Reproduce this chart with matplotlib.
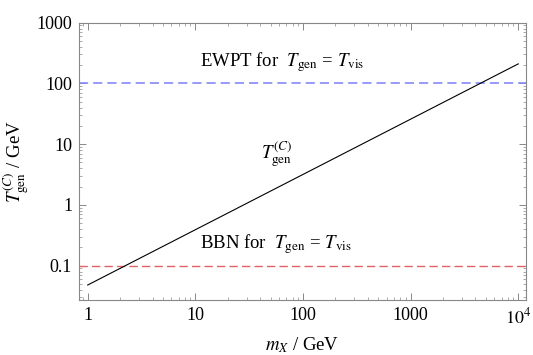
import matplotlib
matplotlib.use("Agg")
import matplotlib.pyplot as plt
from matplotlib.ticker import FixedLocator, FixedFormatter, LogLocator, NullFormatter

# data
m_x = [1.0, 1.0e4]
t_gen = [0.048, 210.0]
t_ewpt = 100.0
t_bbn = 0.1

x_ticks = [1, 10, 100, 1000, 10000]
x_labels = ["1", "10", "100", "1000", r"$10^4$"]
y_ticks = [0.1, 1, 10, 100, 1000]
y_labels = ["0.1", "1", "10", "100", "1000"]

plt.rcParams["font.family"] = ["Liberation Serif", "DejaVu Serif"]
plt.rcParams["mathtext.fontset"] = "stix"

fig = plt.figure(figsize=(5.33, 3.55), dpi=100)
ax = fig.add_axes([79 / 533, 1 - 300 / 355, (526 - 79) / 533, (300 - 22.7) / 355])

ax.set_xscale("log")
ax.set_yscale("log")
ax.set_xlim(0.83, 1.18e4)
ax.set_ylim(0.0272, 1000)

ax.axhline(t_ewpt, color="#8888f8", lw=1.2, ls=(0, (5.5, 3)))
ax.axhline(t_bbn, color="#e06262", lw=1.0, ls=(0, (6, 3)))
ax.plot(m_x, t_gen, color="black", lw=0.8)

ax.text(11, 225, r"EWPT for  $T_{\rm gen}$ = $T_{\rm vis}$", fontsize=13.5, va="center", ha="left")
ax.text(11, 0.23, r"BBN for  $T_{\rm gen}$ = $T_{\rm vis}$", fontsize=13.5, va="center", ha="left")
ax.text(57, 6.8, r"$T_{\rm gen}^{(C)}$", fontsize=13.5, ha="center", va="center")

ax.xaxis.set_major_locator(FixedLocator(x_ticks))
ax.xaxis.set_major_formatter(FixedFormatter(x_labels))
ax.yaxis.set_major_locator(FixedLocator(y_ticks))
ax.yaxis.set_major_formatter(FixedFormatter(y_labels))
ax.xaxis.set_minor_locator(LogLocator(base=10, subs=range(2, 10), numticks=20))
ax.yaxis.set_minor_locator(LogLocator(base=10, subs=range(2, 10), numticks=20))
ax.xaxis.set_minor_formatter(NullFormatter())
ax.yaxis.set_minor_formatter(NullFormatter())

ax.tick_params(which="both", direction="in", top=True, right=True, color="#888888", labelsize=13)
ax.tick_params(which="major", length=5, width=0.7, pad=5)
ax.tick_params(which="minor", length=2.5, width=0.5)
for s in ax.spines.values():
    s.set_color("#888888")
    s.set_linewidth(0.8)

ax.set_xlabel(r"$m_X$ / GeV", fontsize=13.5, labelpad=6)
ax.set_ylabel(r"$T_{\rm gen}^{(C)}$ / GeV", fontsize=13.5, labelpad=4)

fig.savefig("out.png", dpi=100)
